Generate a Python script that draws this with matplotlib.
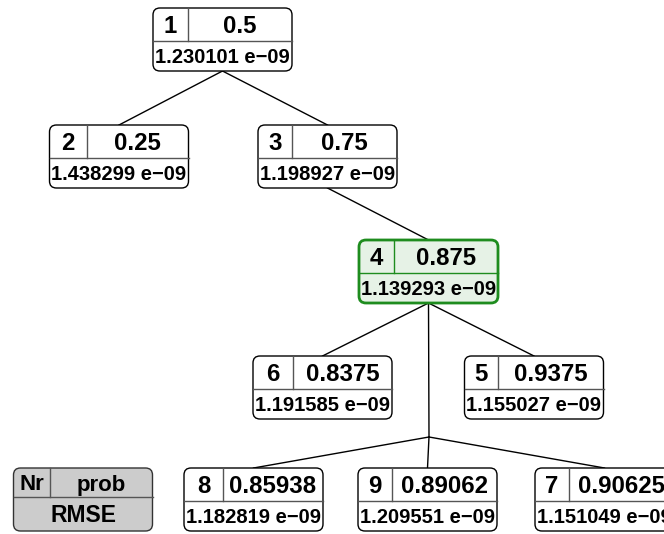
import matplotlib.pyplot as plt
from matplotlib.patches import FancyBboxPatch

plt.rcParams['font.family'] = ['Liberation Sans', 'DejaVu Sans']

# node data
nodes = [1, 2, 3, 4, 5, 6, 7, 8, 9]
probs = ['0.5', '0.25', '0.75', '0.875', '0.9375', '0.8375', '0.90625', '0.85938', '0.89062']
rmse = ['1.230101 e\u221209', '1.438299 e\u221209', '1.198927 e\u221209', '1.139293 e\u221209',
        '1.155027 e\u221209', '1.191585 e\u221209', '1.151049 e\u221209', '1.182819 e\u221209',
        '1.209551 e\u221209']
# tree edges (parent, child); 'j' is the unlabeled branch point under node 4
edges = [(1, 2), (1, 3), (3, 4), (4, 6), (4, 5), (4, 'j'), ('j', 8), ('j', 9), ('j', 7)]
highlight = 4

# layout in pixels: box centre x, box top y, divider offset
layout = {
    1: (222.5, 8, 35), 2: (119, 125, 37), 3: (327.5, 125, 34),
    4: (428.5, 240, 35), 6: (322.5, 356, 40), 5: (534, 356, 33),
    8: (253.5, 468, 39), 9: (427.5, 468, 34), 7: (604.5, 468, 34),
}
junction = (429, 437)
legend_pos = (83, 468, 36)
W, H = 139, 63

fig = plt.figure(figsize=(6.64, 5.34), dpi=100)
ax = fig.add_axes([0, 0, 1, 1])
ax.set_xlim(0, 664)
ax.set_ylim(534, 0)
ax.axis('off')

def top_pt(n):
    if n == 'j':
        return junction
    x, y, _ = layout[n]
    return x, y

def bottom_pt(n):
    if n == 'j':
        return junction
    x, y, _ = layout[n]
    return x, y + H

for p, c in edges:
    x0, y0 = bottom_pt(p)
    x1, y1 = top_pt(c)
    ax.plot([x0, x1], [y0, y1], color='black', lw=1, zorder=1)

def draw_box(cx, top, div, left_txt, right_txt, bottom_txt, face, edge, lw, divcol,
             hdiv=33, fs_top=17.3, fs_bot=14.5):
    x0 = cx - W / 2
    box = FancyBboxPatch((x0, top), W, H, boxstyle='round,pad=0,rounding_size=7',
                         fc=face, ec=edge, lw=lw, zorder=2)
    ax.add_patch(box)
    ax.plot([x0, x0 + W], [top + hdiv, top + hdiv], color=divcol, lw=1, zorder=3)
    ax.plot([x0 + div, x0 + div], [top, top + hdiv], color=divcol, lw=1, zorder=3)
    # baseline offsets so that cap height sits centred in each cell
    yc = top + hdiv / 2 + 0.36 * fs_top * 100 / 72
    ax.text(x0 + div / 2, yc, left_txt, ha='center', va='baseline',
            fontsize=fs_top, fontweight='bold', zorder=4)
    ax.text(x0 + div + (W - div) / 2, yc, right_txt, ha='center', va='baseline',
            fontsize=fs_top, fontweight='bold', zorder=4)
    yb = top + hdiv + (H - hdiv) / 2 + 0.36 * fs_bot * 100 / 72
    ax.text(cx, yb, bottom_txt, ha='center', va='baseline',
            fontsize=fs_bot, fontweight='bold', zorder=4)

for n, pr, r in zip(nodes, probs, rmse):
    cx, top, div = layout[n]
    if n == highlight:
        draw_box(cx, top, div, str(n), pr, r, '#e6f2e6', '#1e8c1e', 2, '#1e8c1e')
    else:
        draw_box(cx, top, div, str(n), pr, r, 'white', 'black', 1, '#555555')

# legend box
draw_box(legend_pos[0], legend_pos[1], legend_pos[2], 'Nr', 'prob', 'RMSE',
         '#cccccc', '#333333', 1, '#555555', hdiv=29, fs_top=16, fs_bot=16.5)

plt.savefig('out.png', dpi=100)
